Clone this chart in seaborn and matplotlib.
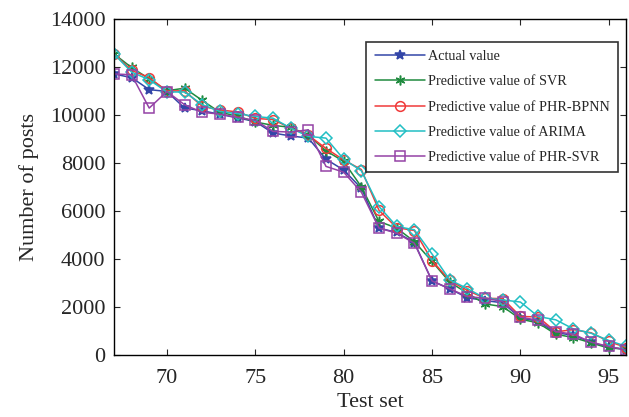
import numpy as np
import pandas as pd
import matplotlib
matplotlib.use("Agg")
import matplotlib.pyplot as plt
import seaborn as sns

test_set = list(range(67, 97))

actual = [11700, 11550, 11050, 10970, 10280, 10170, 10020, 9870, 9720, 9240,
          9120, 9030, 8150, 7700, 6940, 5280, 5100, 4680, 3080, 2750,
          2380, 2260, 2170, 1540, 1400, 920, 820, 520, 320, 220]
svr = [12540, 11970, 11500, 11000, 11110, 10600, 10100, 9950, 9700, 9560,
       9480, 9150, 8500, 8060, 7000, 5560, 5280, 4720, 3890, 3030,
       2570, 2120, 2010, 1490, 1330, 860, 720, 500, 280, 250]
phr_bpnn = [12540, 11850, 11550, 10990, 11000, 10350, 10200, 10120, 9850, 9800,
            9450, 9150, 8600, 8120, 7720, 6020, 5300, 5180, 3930, 3100,
            2680, 2360, 2340, 1600, 1580, 960, 1050, 920, 560, 300]
arima = [12540, 11780, 11460, 10950, 10950, 10420, 10140, 10050, 9930, 9860,
         9445, 9100, 9030, 8150, 7670, 6180, 5350, 5210, 4200, 3125,
         2760, 2360, 2290, 2200, 1600, 1460, 1080, 900, 600, 350]
phr_svr = [11700, 11670, 10280, 10970, 10420, 10100, 10030, 9890, 9770, 9310,
           9280, 9375, 7850, 7610, 6780, 5280, 5070, 4650, 3080, 2750,
           2430, 2360, 2220, 1570, 1440, 970, 860, 530, 350, 200]

labels = ["Actual value", "Predictive value of SVR", "Predictive value of PHR-BPNN",
          "Predictive value of ARIMA", "Predictive value of PHR-SVR"]
series = [actual, svr, phr_bpnn, arima, phr_svr]
colors = ["#3346a8", "#1f8a3e", "#f03a3a", "#22bfc4", "#9442a6"]
markers = ["*", (6, 2, 0), "o", "D", "s"]
filled = [True, True, False, False, False]
msizes = [7.5, 7, 7, 6, 7]

sns.set_style("ticks")
plt.rcParams["font.family"] = ["Liberation Serif", "DejaVu Serif"]

fig = plt.figure(figsize=(6.29, 4.17), dpi=100)
ax = fig.add_axes([0.181, 0.149, 0.815, 0.806])

for lab, vals, c, m, f, ms in zip(labels, series, colors, markers, filled, msizes):
    df = pd.DataFrame({"Test set": test_set, "Number of posts": vals})
    sns.lineplot(data=df, x="Test set", y="Number of posts", ax=ax, color=c,
                 marker=m, markersize=ms, linewidth=1.1,
                 markerfacecolor=c if f else "none", markeredgecolor=c,
                 markeredgewidth=1.1, label=lab)

ax.set_xlim(67, 96)
ax.set_ylim(0, 14000)
ax.set_xticks([70, 75, 80, 85, 90, 95])
ax.set_yticks(np.arange(0, 14001, 2000))
ax.tick_params(axis="both", direction="in", top=True, right=True, labelsize=16, length=4)
ax.tick_params(axis="x", pad=10)
ax.tick_params(axis="y", pad=6)
for s in ax.spines.values():
    s.set_linewidth(1.0)
    s.set_color("black")
ax.set_xlabel("Test set", fontsize=16, labelpad=4)
ax.set_ylabel("Number of posts", fontsize=16, labelpad=8)

leg = ax.legend(loc="upper right", bbox_to_anchor=(0.984, 0.932), fontsize=10.3,
                frameon=True, fancybox=False, edgecolor="black", handlelength=3.5,
                labelspacing=0.85, borderpad=0.6, handletextpad=0.2,
                borderaxespad=0)
leg.get_frame().set_linewidth(1.2)

fig.savefig("out.png", dpi=100)
